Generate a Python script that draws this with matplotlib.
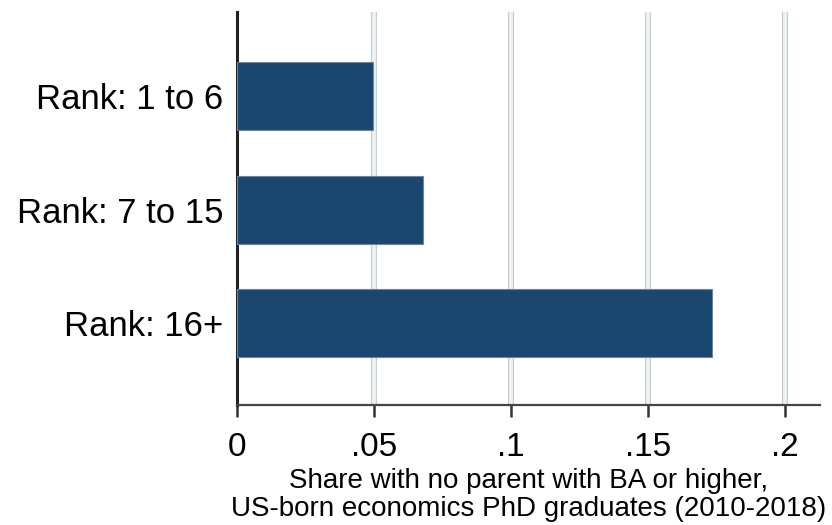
import matplotlib
matplotlib.use("Agg")
import matplotlib.pyplot as plt

categories = ["Rank: 1 to 6", "Rank: 7 to 15", "Rank: 16+"]
shares = [0.0496, 0.0679, 0.1734]
xticks = [0, 0.05, 0.1, 0.15, 0.2]
xticklabels = ["0", ".05", ".1", ".15", ".2"]
xlabel = "Share with no parent with BA or higher,\nUS-born economics PhD graduates (2010-2018)"

plt.rcParams['font.family'] = ['Liberation Sans', 'DejaVu Sans']

fig = plt.figure(figsize=(8.32, 5.25), dpi=100)
ax = fig.add_axes([237/832, 1 - 405/525, (820-237)/832, (405-12)/525])

pos = list(range(len(categories)))
# gridlines (Stata-like double lines)
for x in xticks[1:]:
    ax.axvline(x, color='#c8cdd0', lw=4.4, zorder=1, solid_capstyle='round')
    ax.axvline(x, color='#eef3f5', lw=2.6, zorder=1.1, solid_capstyle='round')

ax.barh(pos, shares, height=0.6, color='#1a476f', edgecolor='#6f8498', linewidth=0.8, zorder=3)

ax.set_xlim(0, 0.2128)
ax.set_ylim(2.72, -0.74)
ax.set_yticks(pos)
ax.set_yticklabels(categories, fontsize=25)
ax.set_xticks(xticks)
ax.set_xticklabels(xticklabels, fontsize=24)

ax.tick_params(axis='y', length=0, pad=10)
ax.tick_params(axis='x', length=8.5, width=1.8, color='#333333', pad=11, direction='out')

for s in ['top', 'right']:
    ax.spines[s].set_visible(False)
ax.spines['left'].set_color('#222222')
ax.spines['left'].set_linewidth(2.2)
ax.spines['bottom'].set_color('#444444')
ax.spines['bottom'].set_linewidth(1.6)

ax.text(0.5, -0.160, xlabel, transform=ax.transAxes, ha='center', va='top',
        fontsize=20, linespacing=1.12)

fig.savefig("out.png", dpi=100, facecolor='white')
